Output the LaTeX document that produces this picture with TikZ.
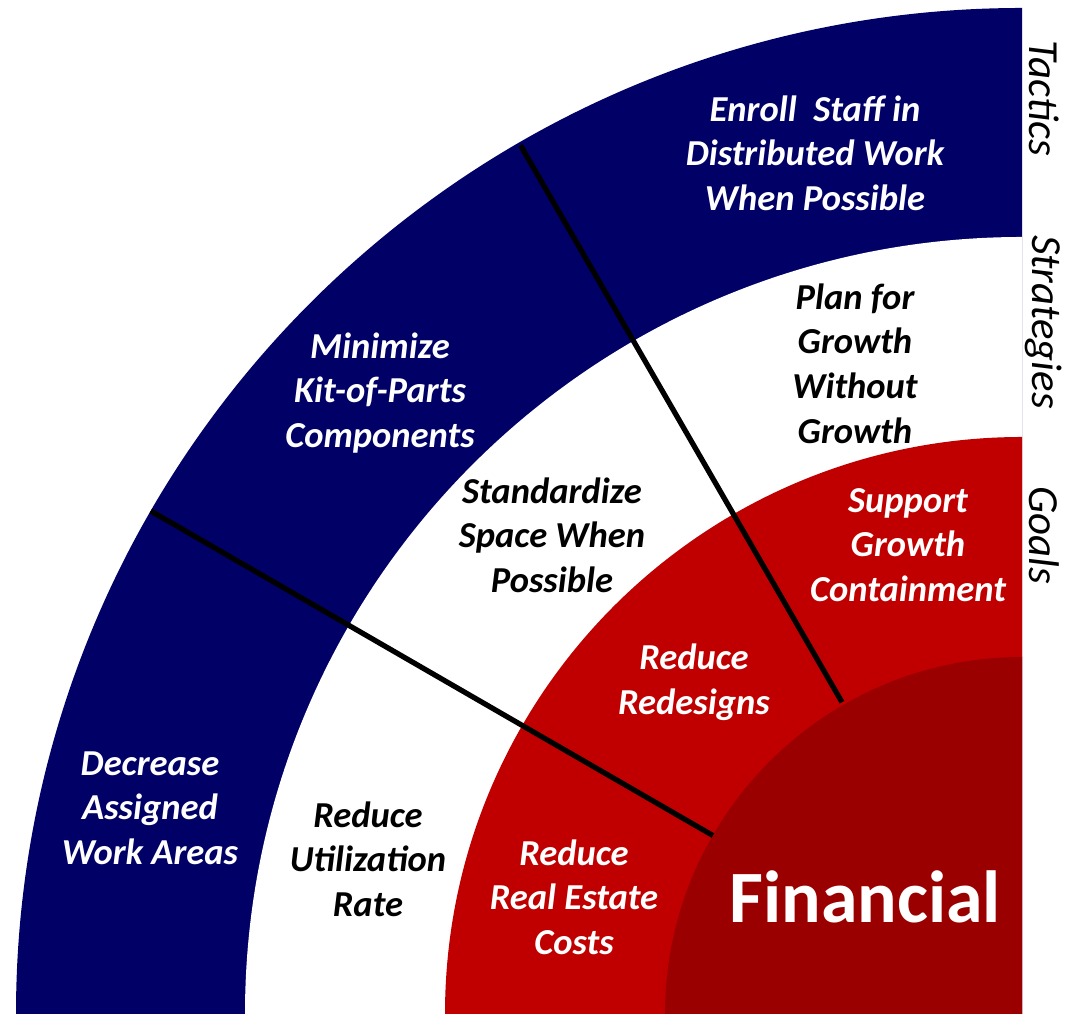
\documentclass[tikz,border=0pt]{standalone}
\usepackage{fontspec}
\setmainfont{Carlito}
\usepackage{xcolor}
\definecolor{tacblue}{RGB}{0,0,102}
\definecolor{goalred}{RGB}{192,0,0}
\definecolor{corered}{RGB}{155,0,0}
\tikzset{
  ringtext/.style={align=center, inner sep=0pt, font=\fontsize{10.4}{12.7}\selectfont\bfseries\itshape},
  whitetext/.style={ringtext, text=white},
  blacktext/.style={ringtext, text=black},
  sidetext/.style={rotate=-90, inner sep=0pt, font=\fontsize{12.2}{14}\selectfont\itshape},
  divider/.style={black, line width=1.5pt},
}

\begin{document}
\begin{tikzpicture}
\useasboundingbox (0,0) rectangle (10.68,10.14);
\coordinate (o) at (10.22,0);
% rings, outside in
\fill[tacblue] (o) -- ++(90:10.06) arc[start angle=90, end angle=180, radius=10.06] -- cycle;
\fill[white] (o) -- ++(90:7.77) arc[start angle=90, end angle=180, radius=7.77] -- cycle;
\fill[goalred] (o) -- ++(90:5.77) arc[start angle=90, end angle=180, radius=5.77] -- cycle;
\fill[corered] (o) -- ++(90:3.57) arc[start angle=90, end angle=180, radius=3.57] -- cycle;

\path (o)++(120:3.6) coordinate (d1in);
\path (o)++(120:10.03) coordinate (d1out);
\path (o)++(150:3.57) coordinate (d2in);
\path (o)++(150:10.06) coordinate (d2out);
\draw[divider] (d1in) -- (d1out);
\draw[divider] (d2in) -- (d2out);

% tactics
\node[whitetext] (enroll) at (8.15,8.61) {Enroll\ \ Staff in\\Distributed Work\\When Possible};
\node[whitetext] (minimize) at (3.80,6.21) {Minimize\\Kit-of-Parts\\Components};
\node[whitetext] (decrease) at (1.50,2.06) {Decrease\\Assigned\\Work Areas};
% strategies
\node[blacktext] (plan) at (8.55,6.505) {Plan for\\Growth\\Without\\Growth};
\node[blacktext] (standard) at (5.52,4.79) {Standardize\\Space When\\Possible};
\node[blacktext] (utilization) at (3.68,1.55) {Reduce\\Utilization\\Rate};
% goals
\node[whitetext] (support) at (9.08,4.69) {Support\\Growth\\Containment};
\node[whitetext] (redesign) at (6.94,3.32) {Reduce\\Redesigns};
\node[whitetext] (realestate) at (5.74,1.17) {Reduce\\Real Estate\\Costs};
\node[anchor=base, text=white, inner sep=0pt, font=\fontsize{21}{24}\selectfont\bfseries] (financial) at (8.65,0.91) {Financial};

\node[sidetext] (tactics) at (10.44,9.16) {Tactics};
\node[sidetext] (strategies) at (10.44,6.92) {Strategies};
\node[sidetext] (goals) at (10.44,4.79) {Goals};
\end{tikzpicture}
\end{document}
